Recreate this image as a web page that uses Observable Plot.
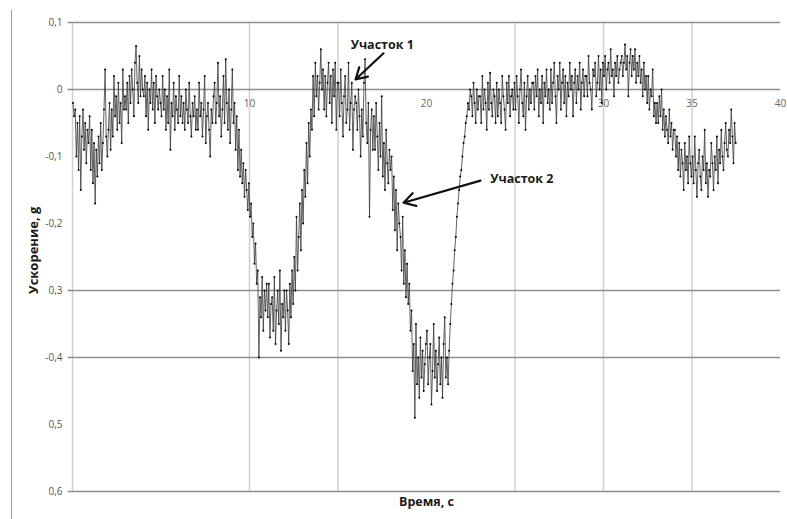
<!DOCTYPE html>
<html><head><meta charset="utf-8">
<script src="https://cdn.jsdelivr.net/npm/d3@7"></script>
<script src="https://cdn.jsdelivr.net/npm/@observablehq/plot@0.6"></script>
<style>
body{margin:0;background:#fff;}
#wrap{position:relative;width:787px;height:519px;overflow:hidden;}
#frame{position:absolute;left:11px;top:10px;width:0;height:509px;border-left:1px solid #9a9a9a;}
#chart{position:absolute;left:0;top:0;}
</style></head><body>
<div id="wrap"><div id="frame"></div><div id="chart"></div></div>
<script>
// Time sampling (s) and acceleration samples (g), 16 per second
const T0 = 0.03, DT = 0.0625;
const accel = [
 -0.02,-0.04,-0.03,-0.10,-0.05,-0.12,-0.04,-0.15,-0.07,-0.03,-0.09,-0.05,-0.11,-0.06,-0.08,-0.04,
 -0.12,-0.06,-0.14,-0.08,-0.17,-0.09,-0.13,-0.07,-0.11,-0.05,-0.12,-0.08,-0.03,0.03,-0.07,-0.10,
 -0.06,-0.02,-0.09,-0.03,-0.07,0.02,-0.04,-0.01,-0.06,0.01,-0.05,-0.02,-0.08,0.03,-0.03,-0.01,
 -0.03,0.01,-0.05,0.02,-0.02,0.03,0.00,-0.04,0.04,0.065,0.01,-0.02,0.05,-0.01,0.03,0.00,
 -0.01,0.02,-0.04,0.01,-0.06,0.00,-0.02,0.03,-0.03,0.01,-0.05,0.02,-0.01,-0.03,0.00,-0.02,
 -0.04,0.02,-0.03,0.00,-0.06,-0.01,-0.05,0.03,-0.09,-0.02,-0.04,0.01,-0.06,-0.01,-0.03,-0.05,
 0.02,-0.04,-0.01,-0.05,-0.02,-0.06,0.00,-0.03,-0.05,0.01,-0.04,-0.07,-0.02,-0.04,-0.01,-0.06,
 -0.03,-0.06,0.01,-0.04,-0.02,-0.07,-0.03,0.02,-0.08,-0.04,-0.02,-0.06,-0.10,-0.03,-0.05,-0.01,
 0.01,-0.05,-0.02,0.04,-0.04,-0.01,-0.07,-0.03,0.02,-0.05,0.045,-0.02,-0.06,0.00,-0.08,-0.03,
 0.03,-0.05,-0.02,-0.09,-0.04,-0.12,-0.06,-0.13,-0.09,-0.14,-0.11,-0.16,-0.12,-0.15,-0.18,-0.14,
 -0.19,-0.17,-0.22,-0.20,-0.26,-0.23,-0.29,-0.27,-0.40,-0.31,-0.34,-0.28,-0.36,-0.30,-0.33,-0.29,
 -0.34,-0.29,-0.37,-0.32,-0.31,-0.36,-0.28,-0.38,-0.33,-0.30,-0.35,-0.27,-0.39,-0.32,-0.34,-0.30,
 -0.36,-0.30,-0.33,-0.38,-0.29,-0.34,-0.27,-0.32,-0.25,-0.30,-0.19,-0.27,-0.22,-0.17,-0.24,-0.15,
 -0.20,-0.12,-0.16,-0.08,-0.14,-0.05,-0.10,-0.03,-0.06,0.02,-0.04,0.04,-0.01,0.02,-0.03,0.01,
 0.06,0.00,0.03,-0.03,0.02,-0.04,0.01,0.04,-0.02,0.02,-0.05,0.03,-0.01,0.04,-0.06,0.01,
 0.01,-0.04,0.03,-0.02,-0.07,-0.01,0.02,-0.05,-0.03,0.04,-0.06,-0.02,0.01,-0.09,-0.03,-0.01,
 -0.02,-0.06,0.00,-0.04,-0.10,-0.03,-0.07,0.01,0.045,-0.05,-0.08,-0.02,-0.19,-0.06,-0.03,-0.09,
 -0.04,-0.09,-0.02,-0.07,-0.12,-0.05,-0.10,-0.01,-0.13,-0.08,-0.15,-0.06,-0.11,-0.14,-0.09,-0.12,
 -0.10,-0.18,-0.13,-0.21,-0.15,-0.24,-0.17,-0.20,-0.22,-0.27,-0.19,-0.29,-0.24,-0.31,-0.26,-0.32,
 -0.29,-0.36,-0.33,-0.42,-0.38,-0.49,-0.35,-0.44,-0.40,-0.46,-0.37,-0.43,-0.39,-0.45,-0.41,-0.38,
 -0.36,-0.44,-0.40,-0.38,-0.47,-0.42,-0.35,-0.43,-0.39,-0.45,-0.41,-0.37,-0.44,-0.40,-0.46,-0.38,
 -0.34,-0.43,-0.40,-0.44,-0.39,-0.35,-0.32,-0.29,-0.27,-0.24,-0.22,-0.19,-0.17,-0.15,-0.13,-0.12,
 -0.10,-0.08,-0.07,-0.05,-0.04,-0.02,-0.03,0.00,-0.01,-0.04,0.01,-0.02,-0.05,0.00,-0.03,-0.01,
 -0.01,-0.05,0.02,-0.03,0.00,-0.02,-0.06,0.01,-0.03,0.025,-0.02,-0.04,0.00,-0.01,-0.05,0.01,
 -0.04,0.00,-0.02,-0.05,0.02,-0.01,-0.03,-0.06,0.01,-0.02,0.02,-0.04,-0.01,0.00,-0.03,0.01,
 -0.03,0.02,-0.01,-0.05,0.00,0.03,-0.02,-0.04,0.01,-0.06,-0.01,0.02,-0.03,0.00,-0.02,0.01,
 0.01,-0.03,0.02,-0.01,0.03,-0.04,0.00,-0.02,0.02,-0.05,0.01,-0.01,0.03,-0.02,0.00,-0.03,
 0.03,-0.02,0.01,0.04,-0.01,-0.05,0.02,0.00,0.04,-0.03,0.01,0.03,-0.02,0.02,-0.04,0.01,
 -0.01,0.04,0.00,0.02,-0.04,0.01,0.03,-0.02,0.02,0.00,0.04,-0.03,0.01,0.03,-0.01,0.02,
 0.02,-0.01,0.05,0.01,0.00,-0.03,0.03,0.02,0.04,-0.01,0.01,0.05,0.00,0.03,-0.02,0.04,
 0.02,0.05,0.00,0.03,0.04,0.01,0.06,0.02,0.03,-0.01,0.04,0.02,0.05,0.01,0.03,0.04,
 0.05,0.02,0.04,0.067,0.03,0.05,-0.01,0.04,0.06,0.02,0.05,0.03,0.06,0.01,0.04,0.02,
 0.05,0.01,0.03,-0.01,0.04,0.00,0.02,-0.02,0.02,-0.03,0.00,-0.01,0.03,-0.04,-0.02,-0.05,
 -0.02,-0.05,-0.01,-0.04,0.00,-0.06,-0.03,-0.07,-0.04,-0.06,-0.08,-0.03,-0.07,-0.05,-0.09,-0.06,
 -0.06,-0.10,-0.07,-0.12,-0.08,-0.13,-0.09,-0.11,-0.15,-0.08,-0.12,-0.10,-0.14,-0.07,-0.11,-0.13,
 -0.10,-0.14,-0.07,-0.12,-0.16,-0.11,-0.09,-0.13,-0.15,-0.10,-0.12,-0.06,-0.14,-0.11,-0.16,-0.12,
 -0.13,-0.08,-0.11,-0.15,-0.10,-0.12,-0.07,-0.14,-0.09,-0.11,-0.06,-0.10,-0.12,-0.08,-0.05,-0.09,
 -0.10,-0.06,-0.08,-0.03,-0.07,-0.11,-0.05,-0.08
];
const yTicks = [0.1, 0, -0.1, -0.2, -0.3, -0.4, -0.5, -0.6];
const yTickLabels = ["0,1", "0", "-0,1", "-0,2", "0,3", "-0,4", "0,5", "0,6"];
const hGrid = [0.1, 0, -0.3, -0.4, -0.6];
const vGrid = [0, 10, 15, 25, 30, 35];
const xTicks = [10, 20, 30, 35, 40];
const xTickLabels = ["10", "20", "30", "35", "40"];
const noteLabels = ["Участок 1", "Участок 2"];
const noteT = [17.5, 23.6];
const noteG = [0.067, -0.133];
const arrowFromT = [17.57, 23.05], arrowFromG = [0.054, -0.136];
const arrowToT = [15.99, 18.7], arrowToG = [0.015, -0.169];
const xTitle = "Время, с";
const yTitle = "Ускорение, g";

const data = accel.map((g, i) => ({t: T0 + i * DT, g}));
const notes = noteLabels.map((text, i) => ({text, t: noteT[i], g: noteG[i]}));
const arrows = arrowFromT.map((t1, i) => ({t1, g1: arrowFromG[i], t2: arrowToT[i], g2: arrowToG[i]}));

const font = "'Open Sans', 'DejaVu Sans', sans-serif";
const chart = Plot.plot({
  width: 787, height: 519,
  marginLeft: 72, marginRight: 7, marginTop: 22, marginBottom: 28,
  x: {domain: [0, 40], axis: null},
  y: {domain: [-0.6, 0.1], axis: null},
  style: {fontFamily: font, background: "transparent", overflow: "visible"},
  marks: [
    Plot.ruleX(vGrid, {x: d => d, stroke: "#cfcfcf", strokeWidth: 1.5}),
    Plot.ruleY(hGrid, {y: d => d, x1: () => -0.25, x2: () => 40, stroke: "#8e8e8e", strokeWidth: 1.3}),
    Plot.text(yTicks, {x: () => 0, y: d => d, text: (d, i) => yTickLabels[i], textAnchor: "end", dx: -10, fontSize: 10, fill: "#555"}),
    Plot.text(xTicks, {x: d => d, y: () => 0, text: (d, i) => xTickLabels[i], dy: 14, fontSize: 10, fill: "#666"}),
    Plot.line(data, {x: "t", y: "g", stroke: "#3a3a3a", strokeWidth: 0.8}),
    Plot.dot(data, {x: "t", y: "g", r: 1, fill: "#000", stroke: "none"}),
    Plot.arrow(arrows, {x1: "t1", y1: "g1", x2: "t2", y2: "g2", stroke: "#111", strokeWidth: 2.2, headLength: 9}),
    Plot.text(notes.slice(0, 1), {x: "t", y: "g", text: "text", fontWeight: "bold", fontSize: 12.5, fill: "#1a1a1a"}),
    Plot.text(notes.slice(1), {x: "t", y: "g", text: "text", textAnchor: "start", fontWeight: "bold", fontSize: 12.5, fill: "#1a1a1a"}),
    Plot.text([xTitle], {frameAnchor: "bottom", text: d => d, dy: 14, fontWeight: "bold", fontSize: 12.5, fill: "#1a1a1a"}),
    Plot.text([yTitle], {x: () => -2.2, y: () => -0.24, text: d => d, rotate: -90, fontWeight: "bold", fontSize: 13, fill: "#1a1a1a"})
  ]
});
document.getElementById("chart").appendChild(chart);
</script>
</body></html>
